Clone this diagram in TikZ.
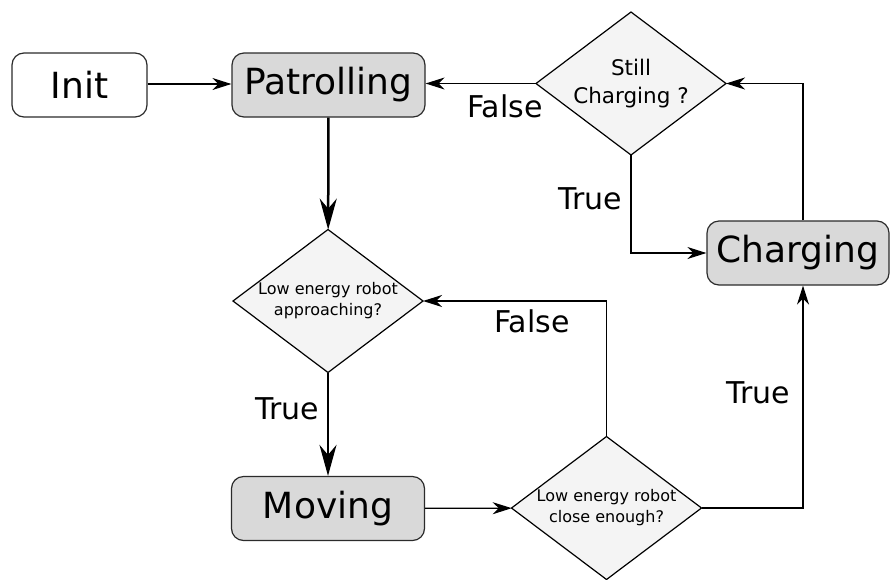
\documentclass[tikz,border=0pt]{standalone}
\usepackage{fontspec}
\setmainfont{DejaVu Sans}
\usetikzlibrary{shapes.geometric,arrows.meta,calc}

\definecolor{stateFill}{HTML}{D9D9D9}
\definecolor{testFill}{HTML}{F4F4F4}
\definecolor{edgeCol}{HTML}{2B2B2B}

\tikzset{
  statebox/.style={draw=edgeCol, line width=1.2pt, rounded corners=12pt, fill=stateFill,
    minimum width=193pt, minimum height=64pt, inner sep=0pt, font=\fontsize{36}{40}\selectfont},
  startbox/.style={statebox, fill=white, minimum width=135pt},
  % decision diamond: fixed size, the question is set as a centred label
  testbox/.style={diamond, draw=black, line width=1.2pt, fill=testFill, inner sep=0pt,
    outer sep=0pt, minimum width=190pt, minimum height=143pt,
    label={[align=center, inner sep=0pt, #1]center:{\questiontext}}},
  smalltext/.style={font=\fontsize{16}{21}\selectfont},
  midtext/.style={font=\fontsize{21.5}{28}\selectfont},
  edgelabel/.style={inner sep=0pt, font=\fontsize{30}{34}\selectfont},
  flow/.style={draw=black, line width=1.2pt, -{Stealth[length=19pt, width=12pt, inset=6pt]}},
  mainflow/.style={draw=black, line width=2.5pt, -{Stealth[length=31pt, width=17pt, inset=10pt]}}
}

\begin{document}
\begin{tikzpicture}[x=1pt, y=-1pt]
  \useasboundingbox (0,0) rectangle (893,579);

  % states
  \node[startbox] (init) at (79.5,85) {Init};
  \node[statebox] (patrol) at (328.5,85) {Patrolling};
  \node[statebox, minimum width=182pt] (charging) at (798,253) {Charging};
  \node[statebox] (moving) at (328,508.5) {Moving};

  % decisions
  \def\questiontext{Still\\Charging ?}
  \node[testbox=midtext] (still) at (631,83.5) {};
  \def\questiontext{Low energy robot\\approaching?}
  \node[testbox=smalltext] (approach) at (328,301) {};
  \def\questiontext{Low energy robot\\close enough?}
  \node[testbox=smalltext] (close) at (606.5,508) {};

  % attachment points on the charging box
  \coordinate (chgtop) at ($(charging.north)+(5,0)$);
  \coordinate (chgbot) at ($(charging.south)+(5,0)$);

  % transitions
  \draw[flow] (init.east |- 0,84) -- (patrol.west |- 0,84);
  \draw[mainflow] (patrol) -- (approach);
  \draw[mainflow] (approach) -- (moving);
  \draw[flow] (moving) -- (close);
  \draw[flow] (close.north) |- (approach.east);
  \draw[flow] (close.east) -| (chgbot);
  \draw[flow] (chgtop) |- (still.east);
  \draw[flow] (still.south) |- (charging.west);
  \draw[flow] (still.west) -- (still.west -| patrol.east);

  % transition labels
  \node[edgelabel] (lbFalseA) at (505,106) {False};
  \node[edgelabel] (lbTrueA) at (590,198.5) {True};
  \node[edgelabel] (lbTrueB) at (287,409) {True};
  \node[edgelabel] (lbFalseB) at (532,321) {False};
  \node[edgelabel] (lbTrueC) at (758,393) {True};
\end{tikzpicture}
\end{document}
